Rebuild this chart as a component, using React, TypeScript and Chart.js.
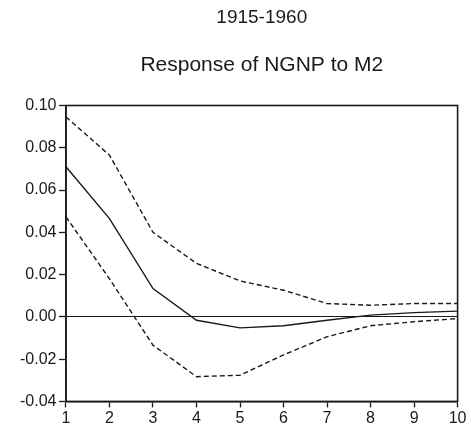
import React, { useEffect, useRef } from "react";
import { Chart, registerables } from "chart.js";

Chart.register(...registerables);

const periods = ["1", "2", "3", "4", "5", "6", "7", "8", "9", "10"];
const response = [0.071, 0.0465, 0.0134, -0.0016, -0.0052, -0.0042, -0.0016, 0.0008, 0.002, 0.0027];
const upperBand = [0.0946, 0.0765, 0.040, 0.0253, 0.017, 0.0126, 0.0063, 0.0055, 0.0063, 0.0063];
const lowerBand = [0.0473, 0.018, -0.0134, -0.0283, -0.0276, -0.018, -0.0094, -0.0042, -0.0023, -0.0008];
const yTicks = [0.1, 0.08, 0.06, 0.04, 0.02, 0.0, -0.02, -0.04];
const topTitle = "1915-1960";
const chartTitle = "Response of NGNP to M2";

const FONT = "'Liberation Sans', Arial, Helvetica, sans-serif";
const INK = "#1a1a1a";

const framePlugin = {
  id: "frame",
  afterDraw(chart: any) {
    const { ctx, chartArea } = chart;
    ctx.save();
    ctx.strokeStyle = INK;
    ctx.lineWidth = 1.6;
    ctx.strokeRect(chartArea.left, chartArea.top, chartArea.right - chartArea.left, chartArea.bottom - chartArea.top);
    ctx.restore();
  },
};

const titlesPlugin = {
  id: "titles",
  afterDraw(chart: any) {
    const { ctx, chartArea } = chart;
    const cx = (chartArea.left + chartArea.right) / 2;
    ctx.save();
    ctx.fillStyle = INK;
    ctx.textAlign = "center";
    ctx.textBaseline = "middle";
    ctx.font = `19px ${FONT}`;
    ctx.fillText(topTitle, cx, 17.5);
    ctx.font = `21px ${FONT}`;
    ctx.fillText(chartTitle, cx, 65);
    ctx.restore();
  },
};

export default function App() {
  const ref = useRef<HTMLCanvasElement | null>(null);
  useEffect(() => {
    document.body.style.margin = "0";
    const chart = new Chart(ref.current!, {
      type: "line",
      data: {
        labels: periods,
        datasets: [
          { data: response, borderColor: INK, borderWidth: 1.4, pointRadius: 0, tension: 0, fill: false },
          { data: upperBand, borderColor: INK, borderWidth: 1.4, borderDash: [5, 3], pointRadius: 0, tension: 0, fill: false },
          { data: lowerBand, borderColor: INK, borderWidth: 1.4, borderDash: [5, 3], pointRadius: 0, tension: 0, fill: false },
        ],
      },
      options: {
        animation: false,
        responsive: false,
        maintainAspectRatio: false,
        layout: { padding: { left: 17.5, right: 9, top: 105.5, bottom: 0 } },
        plugins: {
          legend: { display: false },
          tooltip: { enabled: false },
          title: { display: false },
        },
        scales: {
          x: {
            type: "category",
            offset: false,
            border: { display: true, color: INK, width: 1.6 },
            grid: { display: true, drawOnChartArea: false, drawTicks: true, tickLength: 6, tickColor: INK, tickWidth: 1.3 },
            ticks: { color: INK, font: { family: FONT, size: 16, lineHeight: 0.85 }, padding: 4.5, maxRotation: 0, autoSkip: false },
          },
          y: {
            type: "linear",
            min: -0.04,
            max: 0.1,
            afterBuildTicks: (scale: any) => {
              scale.ticks = yTicks.map((v) => ({ value: v }));
            },
            border: { display: true, color: INK, width: 1.6 },
            grid: {
              display: true,
              drawOnChartArea: true,
              drawTicks: true,
              tickLength: 7,
              tickColor: INK,
              tickWidth: 1.3,
              color: (c: any) => (c.tick && Math.abs(c.tick.value) < 1e-9 ? INK : "rgba(0,0,0,0)"),
              lineWidth: 1,
            },
            ticks: {
              color: INK,
              font: { family: FONT, size: 16 },
              padding: 2.5,
              callback: (v: any) => Number(v).toFixed(2),
            },
          },
        },
      },
      plugins: [framePlugin, titlesPlugin],
    });
    return () => chart.destroy();
  }, []);
  return (
    <div style={{ position: "absolute", left: 0, top: 0, width: 471, height: 430, background: "#fff" }}>
      <canvas ref={ref} width={471} height={430} style={{ display: "block" }} />
    </div>
  );
}
